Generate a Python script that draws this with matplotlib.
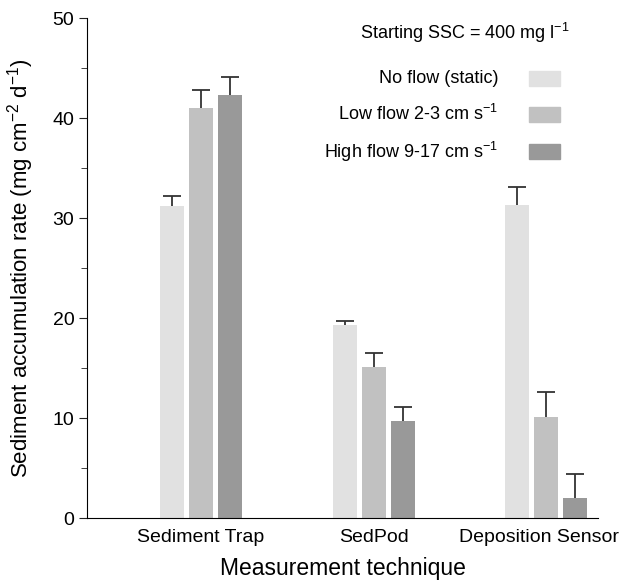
import matplotlib
matplotlib.use('Agg')
import matplotlib.pyplot as plt
import matplotlib.transforms as mtransforms
import numpy as np

plt.rcParams['font.family'] = ['Liberation Sans', 'DejaVu Sans']
plt.rcParams['mathtext.fontset'] = 'custom'
plt.rcParams['mathtext.rm'] = 'Liberation Sans'
plt.rcParams['mathtext.it'] = 'Liberation Sans'

# data
techniques = ['Sediment Trap', 'SedPod', 'Deposition Sensor']
series = ['No flow (static)', 'Low flow 2-3 cm s$^{\\mathregular{-1}}$',
          'High flow 9-17 cm s$^{\\mathregular{-1}}$']
no_flow = [31.2, 19.3, 31.3]
low_flow = [41.0, 15.1, 10.1]
high_flow = [42.3, 9.7, 2.0]
no_flow_err = [1.0, 0.4, 1.8]
low_flow_err = [1.8, 1.4, 2.5]
high_flow_err = [1.8, 1.4, 2.4]
colors = ['#e1e1e1', '#c1c1c1', '#999999']

fig = plt.figure(figsize=(6.25, 5.85), dpi=100)
ax = fig.add_axes([0.139, 0.1145, 0.818, 0.8545])

x = np.arange(len(techniques))
width = 0.139
step = 0.168
values = [no_flow, low_flow, high_flow]
errs = [no_flow_err, low_flow_err, high_flow_err]
for i in range(3):
    pos = x + (i - 1) * step
    ax.bar(pos, values[i], width, color=colors[i], zorder=2)
    # only the upper half of the error bar
    _, caps, _ = ax.errorbar(pos, values[i], yerr=[np.zeros(3), errs[i]], fmt='none',
                             ecolor='#333333', elinewidth=1.3, capsize=6.5,
                             capthick=1.3, zorder=1)
    caps[0].set_visible(False)

ax.set_xlim(-0.66, 2.3)
ax.set_ylim(0, 50)
ax.set_yticks([0, 10, 20, 30, 40, 50])
ax.set_yticks(np.arange(5, 50, 10), minor=True)
ax.set_xticks(x)
ax.set_xticklabels(techniques, fontsize=14)
ax.tick_params(axis='x', length=0, pad=8)
ax.tick_params(axis='y', which='major', length=5.5, labelsize=14, color='#222222')
ax.tick_params(axis='y', which='minor', length=4, color='#222222')
ax.spines['top'].set_visible(False)
ax.spines['right'].set_visible(False)

# last label sits a bit left in the original
lbl = ax.get_xticklabels()[2]
lbl.set_transform(lbl.get_transform() + mtransforms.ScaledTranslation(-0.07, 0, fig.dpi_scale_trans))

ax.set_xlabel('Measurement technique', fontsize=16.5, labelpad=8)
ax.set_ylabel('Sediment accumulation rate (mg cm$^{\\mathregular{-2}}$ d$^{\\mathregular{-1}}$)',
              fontsize=16, labelpad=12)

# legend
ax.text(0.74, 0.97, 'Starting SSC = 400 mg l$^{\\mathregular{-1}}$', transform=ax.transAxes,
        ha='center', va='center', fontsize=13)
rows = [0.879, 0.808, 0.733]
for i in range(3):
    ax.text(0.805, rows[i], series[i], transform=ax.transAxes,
            ha='right', va='center', fontsize=13)
    ax.add_patch(plt.Rectangle((0.865, rows[i] - 0.015), 0.061, 0.03,
                               transform=ax.transAxes, color=colors[i]))

plt.savefig('out.png', dpi=100)
plt.close()
